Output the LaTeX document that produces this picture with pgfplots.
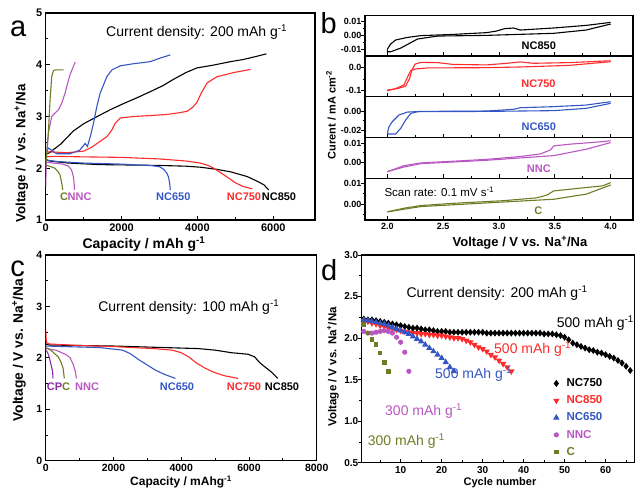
\documentclass[border=0pt]{standalone}
\usepackage{fontspec}
\setmainfont{Liberation Sans}
\usepackage{pgfplots}
\pgfplotsset{compat=1.18}
\definecolor{cRed}{HTML}{FF2A2A}
\definecolor{cBlue}{HTML}{3456C4}
\definecolor{cMag}{HTML}{B957C2}
\definecolor{cOli}{HTML}{6F7C25}
\definecolor{cPur}{HTML}{8E2BA8}
\newcommand{\fs}[1]{\fontsize{#1}{#1}\selectfont}
\newcommand{\supr}[1]{\textsuperscript{#1}}
\pgfplotsset{
  panel/.style={scale only axis, anchor=south west,
    axis line style={line width=1.5pt},
    tick style={line width=0.8pt, black},
    major tick length=4pt, minor tick length=2.5pt,
    tick pos=left, tick align=inside,
    /pgf/number format/assume math mode=true,
    /pgf/number format/1000 sep={},
    every axis plot/.append style={line width=1.1pt}},
  outy/.style={every major y tick/.append style={xshift=-4pt},
    every minor y tick/.append style={xshift=-2.5pt}},
  cvsub/.style={panel, outy, width=268pt, xmin=1.8, xmax=4.2,
    xtick={2,2.5,3,3.5,4}, minor x tick num=1, xticklabels={},
    scaled y ticks=false,
    tick label style={font=\bfseries\fs{9}},
    yticklabel style={/pgf/number format/fixed, /pgf/number format/fixed zerofill,
      /pgf/number format/precision=2}},
}
\begin{document}
\begin{tikzpicture}
\path[use as bounding box] (0,0) rectangle (635pt,490pt);

% ---------- a ----------
\begin{axis}[panel, at={(45.7pt,270pt)}, width=269.3pt, height=207pt,
  xmin=0, xmax=7100, ymin=1, ymax=5,
  xtick={0,2000,4000,6000}, minor x tick num=1,
  ytick={1,2,3,4,5}, minor y tick num=1,
  tick label style={font=\bfseries\fs{11}}]
\addplot[black] coordinates {(0,2.27)(100,2.3)(400,2.47)(730,2.72)(1000,2.86)(1436,3.03)(1700,3.13)(2053,3.25)(2400,3.36)(2758,3.48)(3100,3.6)(3374,3.72)(3700,3.85)(3991,3.94)(4400,3.99)(4872,4.06)(5200,4.1)(5489,4.15)(5820,4.21)};
\addplot[black] coordinates {(0,2.17)(100,2.14)(600,2.1)(1436,2.07)(2500,2.06)(3198,2.05)(3700,2.04)(4079,2.02)(4500,1.98)(4877,1.93)(5313,1.84)(5600,1.74)(5753,1.68)(5880,1.58)};
\addplot[cRed] coordinates {(0,2.32)(300,2.31)(555,2.3)(996,2.33)(1200,2.4)(1436,2.52)(1612,2.61)(1745,2.74)(1833,2.87)(1965,2.97)(2317,3.0)(2800,3.02)(3198,3.04)(3500,3.07)(3727,3.1)(3880,3.18)(3991,3.28)(4100,3.45)(4256,3.65)(4520,3.77)(4961,3.85)(5401,3.91)};
\addplot[cRed] coordinates {(0,2.22)(200,2.23)(1000,2.22)(2000,2.21)(3000,2.18)(3700,2.14)(4079,2.1)(4300,2.05)(4432,2.0)(4600,1.92)(4784,1.83)(5000,1.72)(5200,1.65)(5450,1.6)};
\addplot[cBlue] coordinates {(0,2.3)(69,2.39)(290,2.28)(643,2.28)(900,2.35)(1039,2.48)(1101,2.42)(1189,2.65)(1260,2.87)(1348,3.19)(1436,3.45)(1524,3.61)(1612,3.77)(1745,3.9)(1965,3.98)(2317,4.02)(2758,4.06)(3022,4.13)(3286,4.19)};
\addplot[cBlue] coordinates {(0,2.16)(300,2.13)(1000,2.1)(2000,2.08)(2800,2.05)(3000,2.03)(3110,1.98)(3200,1.9)(3242,1.82)(3270,1.7)(3286,1.58)};
\addplot[cMag] coordinates {(0,1.65)(20,2.2)(70,2.68)(159,3.0)(335,3.13)(423,3.26)(511,3.45)(555,3.58)(643,3.81)(775,4.05)};
\addplot[cMag] coordinates {(0,2.12)(200,2.1)(450,2.08)(600,2.04)(680,1.97)(730,1.84)(750,1.7)(760,1.58)};
\addplot[cOli] coordinates {(0,2.05)(40,2.4)(70,2.68)(115,3.32)(159,3.77)(200,3.88)(250,3.9)(470,3.9)};
\addplot[cOli] coordinates {(0,2.06)(100,2.04)(246,2.0)(330,1.93)(378,1.87)(420,1.72)(450,1.58)};
\end{axis}
\node[font=\fs{14}] at (196.7pt,458.3pt) {Current density: 200 mAh g\supr{-1}};
\begin{scope}[every node/.style={font=\bfseries\fs{11}}]
\node[anchor=west, text=cOli, inner sep=0pt] at (60pt,293.3pt) {C};
\node[anchor=west, text=cMag, inner sep=0pt] at (67.5pt,293.3pt) {NNC};
\node[text=cBlue] at (173.3pt,293.3pt) {NC650};
\node[text=cRed] at (244pt,293.3pt) {NC750};
\node[text=black] at (279pt,293.3pt) {NC850};
\end{scope}
\node[font=\bfseries\fs{14}] at (144pt,246pt) {Capacity / mAh g\supr{-1}};
\node[font=\bfseries\fs{13.3}, rotate=90] at (21.5pt,336.7pt) {Voltage / V vs. Na\supr{+}/Na};
\node[font=\fs{29}] at (18.3pt,460.8pt) {a};

% ---------- b ----------
\begin{axis}[cvsub, at={(365pt,434pt)}, height=40.3pt, ymin=-0.0151, ymax=0.0144,
  ytick={-0.01,0,0.01}, minor ytick={-0.005,0.005}]
\addplot[black] coordinates {(2.0,-0.0102)(2.03,-0.0063)(2.074,-0.0034)(2.18,-0.0015)(2.3,-0.0002)(2.59,0.0007)(2.89,0.002)(2.98,0.0032)(3.05,0.0049)(3.13,0.0054)(3.19,0.0039)(3.49,0.0054)(3.78,0.0073)(4.0,0.0095)};
\addplot[black] coordinates {(4.0,0.0083)(3.78,0.0039)(3.49,0.0015)(2.89,0.0)(2.45,-0.0005)(2.27,-0.0027)(2.12,-0.0093)(2.03,-0.012)(2.0,-0.012)(2.0,-0.0102)};
\end{axis}
\begin{axis}[cvsub, at={(365pt,393.3pt)}, height=40.7pt, ymin=-0.126, ymax=0.0507,
  ytick={-0.1,0}, minor ytick={-0.05},
  yticklabel style={/pgf/number format/precision=1}]
\addplot[cRed] coordinates {(2.0,-0.097)(2.09,-0.091)(2.164,-0.08)(2.2,-0.046)(2.22,-0.01)(2.25,0.016)(2.3,0.023)(2.45,0.022)(2.59,0.014)(2.89,0.012)(3.07,0.019)(3.19,0.025)(3.31,0.019)(3.63,0.022)(4.0,0.03)};
\addplot[cRed] coordinates {(4.0,0.026)(3.63,0.01)(3.19,0.003)(2.89,0)(2.36,-0.001)(2.25,-0.006)(2.21,-0.013)(2.18,-0.042)(2.149,-0.075)(2.074,-0.091)(2.0,-0.1)(2.0,-0.097)};
\end{axis}
\begin{axis}[cvsub, at={(365pt,352.3pt)}, height=41pt, ymin=-0.0281, ymax=0.0151,
  ytick={-0.02,0}, minor ytick={-0.01}]
\addplot[cBlue] coordinates {(2.0,-0.0235)(2.015,-0.0165)(2.045,-0.0112)(2.104,-0.0042)(2.18,-0.0011)(2.3,-0.0004)(2.89,0)(3.13,0.0018)(3.19,0.0035)(3.49,0.0046)(3.78,0.0063)(4.0,0.0098)};
\addplot[cBlue] coordinates {(4.0,0.0081)(3.78,0.0028)(3.49,0.0004)(2.89,-0.0004)(2.27,-0.0007)(2.21,-0.0025)(2.164,-0.0095)(2.12,-0.0182)(2.074,-0.0242)(2.015,-0.0242)(2.0,-0.0235)};
\end{axis}
\begin{axis}[cvsub, at={(365pt,311.7pt)}, height=40.6pt, ymin=-0.00875, ymax=0.013,
  ytick={0,0.01}, minor ytick={0.005}]
\addplot[cMag] coordinates {(2.0,-0.0052)(2.149,-0.002)(2.3,-0.0005)(2.59,0.0004)(2.89,0.0014)(3.19,0.0029)(3.37,0.0043)(3.46,0.0064)(3.49,0.0086)(3.63,0.0095)(3.93,0.0109)(4.0,0.0114)};
\addplot[cMag] coordinates {(4.0,0.0104)(3.78,0.0068)(3.49,0.0034)(2.89,0.0009)(2.3,-0.0009)(2.149,-0.0027)(2.0,-0.0052)};
\end{axis}
\begin{axis}[cvsub, at={(365pt,270pt)}, height=41.7pt, ymin=-0.0079, ymax=0.0126,
  ytick={0,0.01}, minor ytick={-0.005,0.005}, xticklabels={2.0,2.5,3.0,3.5,4.0}]
\addplot[cOli] coordinates {(2.0,-0.0039)(2.149,-0.0021)(2.3,-0.0008)(2.59,0.0003)(3.04,0.0016)(3.34,0.003)(3.43,0.0044)(3.49,0.0064)(3.63,0.0072)(3.93,0.0089)(4.0,0.0105)};
\addplot[cOli] coordinates {(4.0,0.0093)(3.78,0.0048)(3.49,0.0023)(2.89,0.0005)(2.3,-0.0013)(2.149,-0.0026)(2.0,-0.0039)};
\end{axis}
\begin{scope}[every node/.style={font=\bfseries\fs{11}}]
\node[text=black] at (538.8pt,444pt) {NC850};
\node[text=cRed] at (538.5pt,406.7pt) {NC750};
\node[text=cBlue] at (538.8pt,363.3pt) {NC650};
\node[text=cMag] at (538.8pt,321.7pt) {NNC};
\node[text=cOli] at (538.3pt,279.3pt) {C};
\end{scope}
\node[anchor=west, inner sep=0pt, font=\fs{11.5}] at (384.3pt,298.3pt) {Scan rate: 0.1 mV s\supr{-1}};
\node[font=\bfseries\fs{13}] at (520pt,247.3pt) {Voltage / V vs. Na\supr{+}/Na};
\node[font=\bfseries\fs{11}, rotate=90] at (331pt,375pt) {Curent / mA cm\supr{-2}};
\node[font=\fs{29}] at (328.8pt,467pt) {b};

% ---------- c ----------
\begin{axis}[panel, at={(45.7pt,29.3pt)}, width=271pt, height=205.7pt,
  xmin=0, xmax=8000, ymin=0, ymax=4,
  xtick={0,2000,4000,6000,8000}, minor x tick num=1,
  ytick={0,1,2,3,4}, minor y tick num=1,
  tick label style={font=\bfseries\fs{10.5}}]
\addplot[black] coordinates {(0,2.27)(100,2.25)(1000,2.24)(2000,2.23)(3000,2.21)(4000,2.19)(4511,2.18)(5000,2.15)(5484,2.1)(5972,2.07)(6167,2.02)(6313,1.91)(6459,1.83)(6654,1.73)(6849,1.6)};
\addplot[cRed] coordinates {(0,2.55)(20,2.3)(100,2.27)(1000,2.24)(2000,2.22)(2562,2.2)(3200,2.18)(3731,2.15)(4000,2.1)(4218,2.02)(4450,1.9)(4705,1.8)(5000,1.71)(5290,1.65)(5680,1.6)};
\addplot[cBlue] coordinates {(0,2.23)(500,2.22)(1588,2.2)(2000,2.17)(2270,2.15)(2500,2.08)(2757,1.96)(3000,1.86)(3244,1.76)(3500,1.68)(3829,1.6)};
\addplot[cMag] coordinates {(0,2.18)(300,2.15)(614,2.06)(720,2.0)(808,1.88)(870,1.75)(906,1.6)};
\addplot[cOli] coordinates {(0,2.2)(150,2.15)(368,2.02)(450,1.92)(514,1.8)(550,1.6)};
\addplot[cPur] coordinates {(0,2.15)(60,2.1)(110,2.0)(160,1.86)(205,1.73)(215,1.6)};
\end{axis}
\node[font=\fs{14}] at (188.8pt,183.3pt) {Current density: 100 mAh g\supr{-1}};
\node[anchor=west, inner sep=0pt, font=\bfseries\fs{11}] at (46.7pt,103.3pt) {\textcolor{cPur}{CP}\textcolor{cOli}{C}};
\begin{scope}[every node/.style={font=\bfseries\fs{11}}]
\node[anchor=west, inner sep=0pt, text=cMag] at (75pt,103.3pt) {NNC};
\node[text=cBlue] at (177pt,103.3pt) {NC650};
\node[text=cRed] at (244pt,103.3pt) {NC750};
\node[text=black] at (282pt,103.3pt) {NC850};
\end{scope}
\node[font=\bfseries\fs{12}] at (181pt,8pt) {Capacity / mAhg\supr{-1}};
\node[font=\bfseries\fs{13.8}, rotate=90] at (19pt,140pt) {Voltage / V vs. Na\supr{+}/Na};
\node[font=\fs{29}] at (17.5pt,221pt) {c};

% ---------- d ----------
\begin{axis}[panel, outy, at={(361.7pt,27.3pt)}, width=272.6pt, height=207.7pt,
  xmin=0.5, xmax=67, ymin=0.5, ymax=3.0,
  xtick={10,20,30,40,50,60}, minor xtick={5,15,25,35,45,55,65},
  ytick={0.5,1,1.5,2,2.5,3}, minor y tick num=1,
  yticklabel style={/pgf/number format/fixed, /pgf/number format/fixed zerofill,
    /pgf/number format/precision=1},
  tick label style={font=\bfseries\fs{10}},
  legend style={at={(0.705,0.415)}, anchor=north west, draw=none, fill=none,
    inner sep=0pt, font=\bfseries\fs{11.5}, row sep=3.6pt,
    /tikz/every odd column/.append style={column sep=6pt}},
  legend cell align=left]
\addplot[only marks, mark=diamond*, mark size=2.6pt, black] coordinates {(1,2.23)(2,2.22)(3,2.22)(4,2.21)(5,2.20)(6,2.19)(7,2.18)(8,2.17)(9,2.16)(10,2.15)(11,2.14)(12,2.13)(13,2.12)(14,2.12)(15,2.11)(16,2.10)(17,2.10)(18,2.09)(19,2.08)(20,2.08)(21,2.08)(22,2.07)(23,2.07)(24,2.07)(25,2.07)(26,2.07)(27,2.07)(28,2.07)(29,2.07)(30,2.07)(31,2.06)(32,2.06)(33,2.06)(34,2.06)(35,2.06)(36,2.06)(37,2.06)(38,2.06)(39,2.06)(40,2.06)(41,2.06)(42,2.06)(43,2.06)(44,2.06)(45,2.05)(46,2.05)(47,2.05)(48,2.04)(49,2.03)(50,2.01)(51,1.98)(52,1.94)(53,1.92)(54,1.90)(55,1.88)(56,1.86)(57,1.85)(58,1.83)(59,1.82)(60,1.80)(61,1.78)(62,1.76)(63,1.73)(64,1.70)(65,1.66)(66,1.61)};
\addlegendentry{NC750}
\addplot[only marks, mark=triangle*, mark size=2.6pt, mark options={rotate=180}, cRed] coordinates {(1,2.21)(2,2.20)(3,2.18)(4,2.17)(5,2.15)(6,2.14)(7,2.12)(8,2.11)(9,2.10)(10,2.09)(11,2.08)(12,2.07)(13,2.06)(14,2.06)(15,2.05)(16,2.05)(17,2.04)(18,2.04)(19,2.03)(20,2.03)(21,2.02)(22,2.01)(23,2.00)(24,2.00)(25,1.99)(26,1.97)(27,1.95)(28,1.92)(29,1.89)(30,1.87)(31,1.84)(32,1.80)(33,1.77)(34,1.73)(35,1.69)(36,1.65)(37,1.60)};
\addlegendentry{\textcolor{cRed}{NC850}}
\addplot[only marks, mark=triangle*, mark size=2.6pt, cBlue] coordinates {(1,2.22)(2,2.21)(3,2.20)(4,2.19)(5,2.18)(6,2.17)(7,2.15)(8,2.13)(9,2.11)(10,2.09)(11,2.07)(12,2.05)(13,2.02)(14,1.99)(15,1.96)(16,1.92)(17,1.88)(18,1.84)(19,1.80)(20,1.76)(21,1.71)(22,1.65)(23,1.60)};
\addlegendentry{\textcolor{cBlue}{NC650}}
\addplot[only marks, mark=*, mark size=2pt, cMag] coordinates {(1,2.08)(2,2.06)(3,2.06)(4,2.07)(5,2.08)(6,2.09)(7,2.08)(8,2.06)(9,2.01)(10,1.95)(11,1.83)(12,1.60)};
\addlegendentry{\textcolor{cMag}{NNC}}
\addplot[only marks, mark=square*, mark size=1.8pt, cOli] coordinates {(1,2.16)(2,2.06)(3,1.98)(4,1.92)(5,1.82)(6,1.71)(7,1.60)};
\addlegendentry{\textcolor{cOli}{C}}
\end{axis}
\node[font=\fs{14}] at (497pt,196.7pt) {Current density: 200 mAh g\supr{-1}};
\begin{scope}[every node/.style={font=\fs{14}, anchor=west, inner sep=0pt}]
\node[text=black] at (556.7pt,166.7pt) {500 mAh g\supr{-1}};
\node[text=cRed] at (494pt,140.7pt) {500 mAh g\supr{-1}};
\node[text=cBlue] at (435pt,115.7pt) {500 mAh g\supr{-1}};
\node[text=cMag] at (385pt,79.3pt) {300 mAh g\supr{-1}};
\node[text=cOli] at (367.7pt,49pt) {300 mAh g\supr{-1}};
\end{scope}
\node[font=\bfseries\fs{11}] at (500pt,7pt) {Cycle number};
\node[font=\bfseries\fs{11.5}, rotate=90] at (333pt,123.3pt) {Voltage / V vs. Na\supr{+}/Na};
\node[font=\fs{29}] at (329.2pt,219.7pt) {d};
\end{tikzpicture}
\end{document}
